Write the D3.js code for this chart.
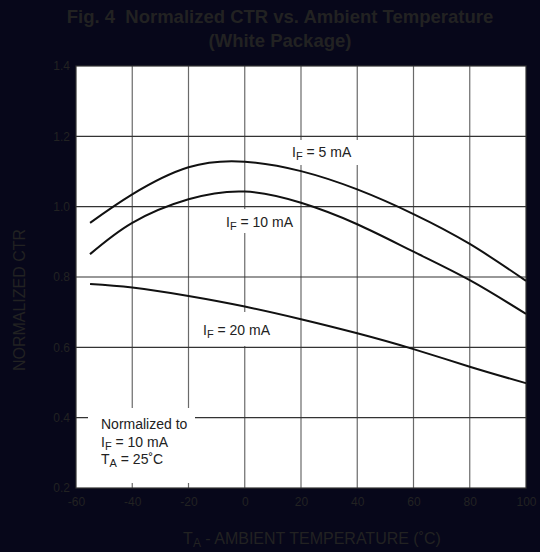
<!DOCTYPE html>
<html><head><meta charset="utf-8">
<script src="https://cdn.jsdelivr.net/npm/d3@7"></script>
<style>html,body{margin:0;padding:0;background:#07071a;}svg{display:block;font-family:"Liberation Sans",Arial,Helvetica,sans-serif;}</style>
</head><body>
<svg id="chart" width="540" height="552"></svg>
<script>
const temps = [-55, -40, -20, 0, 20, 40, 60, 80, 100];
const ctr5mA = [0.954, 1.035, 1.112, 1.128, 1.101, 1.049, 0.979, 0.894, 0.789];
const ctr10mA = [0.865, 0.954, 1.021, 1.043, 1.011, 0.950, 0.872, 0.791, 0.695];
const ctr20mA = [0.780, 0.770, 0.746, 0.716, 0.680, 0.640, 0.595, 0.545, 0.498];
const xTicks = [-60, -40, -20, 0, 20, 40, 60, 80, 100];
const yTicks = [0.2, 0.4, 0.6, 0.8, 1.0, 1.2, 1.4];

const svg = d3.select("#chart");
const W = 540, H = 552;
const m = {left: 76, right: 526, top: 66, bottom: 488};
const x = d3.scaleLinear().domain([-60, 100]).range([m.left, m.right]);
const y = d3.scaleLinear().domain([0.2, 1.4]).range([m.bottom, m.top]);
const txt = "#222";

svg.append("rect").attr("width", W).attr("height", H).attr("fill", "#07071a");

// title
svg.append("text").attr("x", 280).attr("y", 23).attr("text-anchor", "middle")
  .style("white-space", "pre")
  .attr("font-size", 18.5).attr("font-weight", "bold").attr("fill", txt)
  .text("Fig. 4  Normalized CTR vs. Ambient Temperature");
svg.append("text").attr("x", 280).attr("y", 47).attr("text-anchor", "middle")
  .attr("font-size", 18.5).attr("font-weight", "bold").attr("fill", txt)
  .text("(White Package)");

// plot area
svg.append("rect").attr("x", m.left).attr("y", m.top)
  .attr("width", m.right - m.left).attr("height", m.bottom - m.top).attr("fill", "#fff");

// grid
const g = svg.append("g");
g.selectAll(".vg").data(xTicks.slice(1, -1)).join("line")
  .attr("x1", d => x(d)).attr("x2", d => x(d)).attr("y1", m.top).attr("y2", m.bottom)
  .attr("stroke", "#6a6a6a").attr("stroke-width", 1.2);
g.selectAll(".hg").data(yTicks.slice(1, -1)).join("line")
  .attr("x1", m.left).attr("x2", m.right).attr("y1", d => y(d)).attr("y2", d => y(d))
  .attr("stroke", "#333").attr("stroke-width", 1.2);

// axes (tick labels)
const xAxis = d3.axisBottom(x).tickValues(xTicks).tickSize(0).tickPadding(9).tickFormat(d => String(d));
const yAxis = d3.axisLeft(y).tickValues(yTicks).tickSize(0).tickPadding(6).tickFormat(d3.format(".1f"));
const xa = svg.append("g").attr("transform", `translate(0,${m.bottom})`).call(xAxis);
const ya = svg.append("g").attr("transform", `translate(${m.left},0)`).call(yAxis);
[xa, ya].forEach(a => {
  a.select(".domain").remove();
  a.selectAll("text").attr("fill", txt).attr("font-size", 12).attr("font-family", "Liberation Sans, Arial, sans-serif");
});

// label boxes (white, break the grid)
const boxes = [[285, 140, 75, 25], [219, 209, 80, 24], [198, 312, 80, 34], [88, 408, 107, 75]];
svg.selectAll(".box").data(boxes).join("rect")
  .attr("x", d => d[0]).attr("y", d => d[1]).attr("width", d => d[2]).attr("height", d => d[3])
  .attr("fill", "#fff");

// frame
svg.append("rect").attr("x", m.left).attr("y", m.top)
  .attr("width", m.right - m.left).attr("height", m.bottom - m.top)
  .attr("fill", "none").attr("stroke", "#333").attr("stroke-width", 1.2);

// curves
const line = d3.line().x(d => x(d[0])).y(d => y(d[1])).curve(d3.curveNatural);
[ctr5mA, ctr10mA, ctr20mA].forEach(s => {
  svg.append("path").datum(temps.map((t, i) => [t, s[i]]))
    .attr("d", line).attr("fill", "none").attr("stroke", "#111").attr("stroke-width", 2);
});

// curve labels
function subLabel(xp, yp, main, sub, rest) {
  const t = svg.append("text").attr("x", xp).attr("y", yp).attr("font-size", 14).attr("fill", "#222");
  t.append("tspan").text(main);
  t.append("tspan").attr("font-size", 11).attr("dy", 3).text(sub);
  t.append("tspan").attr("dy", -3).text(rest);
}
subLabel(292, 157, "I", "F", " = 5 mA");
subLabel(226, 227, "I", "F", " = 10 mA");
subLabel(203, 335, "I", "F", " = 20 mA");

svg.append("text").attr("x", 101).attr("y", 429).attr("font-size", 14).attr("fill", "#222").text("Normalized to");
subLabel(101, 447, "I", "F", " = 10 mA");
subLabel(101, 464, "T", "A", " = 25˚C");

// axis titles
svg.append("text").attr("transform", "translate(25,300) rotate(-90)").attr("text-anchor", "middle")
  .attr("font-size", 16).attr("fill", txt).text("NORMALIZED CTR");
const xt = svg.append("text").attr("x", 312).attr("y", 544).attr("text-anchor", "middle")
  .attr("font-size", 16).attr("fill", txt);
xt.append("tspan").text("T");
xt.append("tspan").attr("font-size", 12).attr("dy", 3).text("A");
xt.append("tspan").attr("dy", -3).text(" - AMBIENT TEMPERATURE (˚C)");
</script>
</body></html>
